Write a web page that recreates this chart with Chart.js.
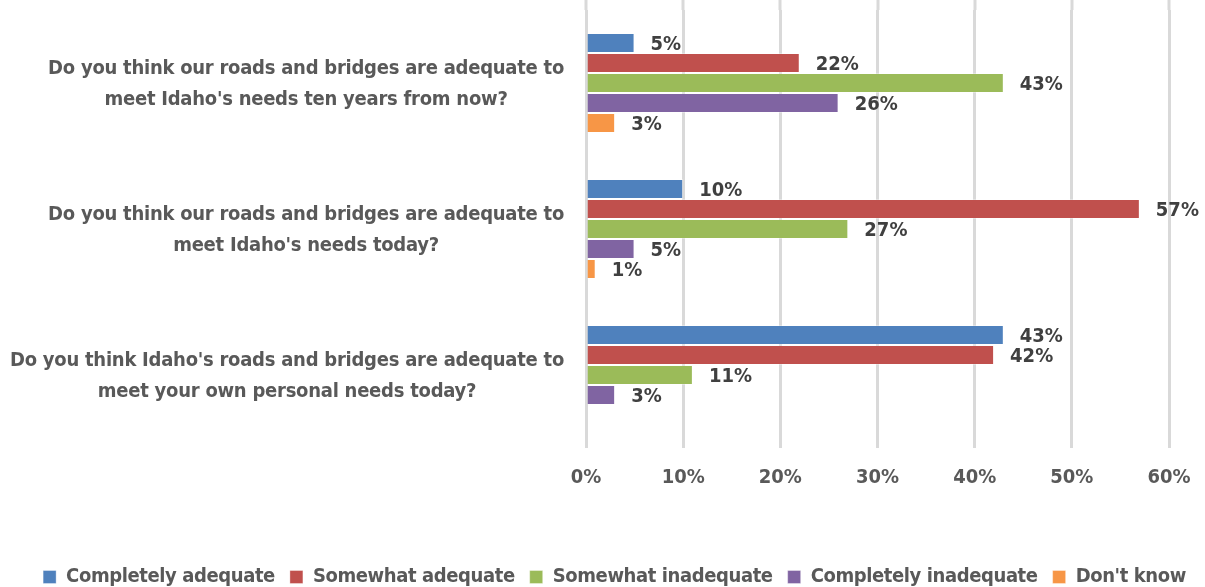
<!DOCTYPE html>
<html>
<head>
<meta charset="utf-8">
<script src="https://cdn.jsdelivr.net/npm/chart.js@4"></script>
<style>
  html, body { margin: 0; padding: 0; background: #ffffff; }
  #wrap { width: 1205px; height: 587px; position: relative; }
</style>
</head>
<body>
<div id="wrap"><canvas id="c" width="1205" height="587"></canvas></div>
<script>
// Survey questions (top to bottom), each split over two lines
const questions = [
  ["Do you think our roads and bridges are adequate to", "meet Idaho's needs ten years from now?"],
  ["Do you think our roads and bridges are adequate to", "meet Idaho's needs today?"],
  ["Do you think Idaho's roads and bridges are adequate to", "meet your own personal needs today?"]
];

// Response shares, percent
const completelyAdequate   = [5, 10, 43];
const somewhatAdequate     = [22, 57, 42];
const somewhatInadequate   = [43, 27, 11];
const completelyInadequate = [26, 5, 3];
const dontKnow             = [3, 1, null];

const seriesNames = ["Completely adequate", "Somewhat adequate", "Somewhat inadequate", "Completely inadequate", "Don't know"];
const seriesColors = ["#4F81BD", "#C0504D", "#9BBB59", "#8064A2", "#F79646"];
const xTicks = [0, 10, 20, 30, 40, 50, 60];

const FONT = "'Liberation Sans Narrow', 'DejaVu Sans Condensed', 'Roboto Condensed', sans-serif";

const seriesValues = [completelyAdequate, somewhatAdequate, somewhatInadequate, completelyInadequate, dontKnow];

// Percent labels just past the end of each bar
const valueLabels = {
  id: 'valueLabels',
  afterDatasetsDraw(chart) {
    const ctx = chart.ctx;
    ctx.save();
    ctx.font = "bold 20px " + FONT;
    ctx.fillStyle = "#404040";
    ctx.textAlign = "left";
    ctx.textBaseline = "middle";
    chart.data.datasets.forEach((ds, di) => {
      const meta = chart.getDatasetMeta(di);
      meta.data.forEach((bar, i) => {
        const v = ds.data[i];
        if (v === null || v === undefined) return;
        ctx.fillText(v + "%", bar.x + 16, bar.y + 2);
      });
    });
    ctx.restore();
  }
};

// Question labels: each block right-aligned against the plot, its lines centred
const questionLabels = {
  id: 'questionLabels',
  afterDraw(chart) {
    const y = chart.scales.y;
    const ctx = chart.ctx;
    const rightEdge = chart.chartArea.left - 22;
    const lineGap = 31;
    ctx.save();
    ctx.font = "bold 20px " + FONT;
    if ('letterSpacing' in ctx) ctx.letterSpacing = "-0.25px";
    ctx.fillStyle = "#595959";
    ctx.textAlign = "center";
    ctx.textBaseline = "middle";
    chart.data.labels.forEach((lines, i) => {
      const cy = y.getPixelForTick(i);
      const widest = Math.max(...lines.map(l => ctx.measureText(l).width));
      const cx = rightEdge - widest / 2;
      const top = cy - (lines.length - 1) * lineGap / 2;
      lines.forEach((l, k) => ctx.fillText(l, cx, top + k * lineGap + 1));
    });
    ctx.restore();
  }
};

// Carry the vertical grid lines up to the top edge of the canvas
const gridToTop = {
  id: 'gridToTop',
  beforeDatasetsDraw(chart) {
    const x = chart.scales.x;
    const ctx = chart.ctx;
    ctx.save();
    ctx.strokeStyle = "#D9D9D9";
    ctx.lineWidth = 3;
    xTicks.forEach(t => {
      const px = Math.round(x.getPixelForValue(t));
      ctx.beginPath();
      ctx.moveTo(px, 0);
      ctx.lineTo(px, chart.chartArea.top);
      ctx.stroke();
    });
    ctx.restore();
  }
};

// Compact, slightly tightened legend row at the foot of the chart
const legendTweaks = {
  id: 'legendTweaks',
  beforeInit(chart) {
    const lg = chart.legend;
    const tight = (fn) => function (...args) {
      const c = this.ctx;
      c.save();
      if ('letterSpacing' in c) c.letterSpacing = "-0.4px";
      const r = fn.apply(this, args);
      c.restore();
      return r;
    };
    const origFit = tight(lg.fit);
    lg.fit = function () {
      origFit.call(this);
      this.height = 35;
    };
    lg.draw = tight(lg.draw);
  }
};

new Chart(document.getElementById('c'), {
  type: 'bar',
  data: {
    labels: questions,
    datasets: seriesValues.map((vals, i) => ({
      label: seriesNames[i],
      data: vals,
      backgroundColor: seriesColors[i],
      borderColor: 'rgba(255,255,255,0.35)',
      borderWidth: 1,
      categoryPercentage: 0.685,
      barPercentage: 1.0
    }))
  },
  options: {
    indexAxis: 'y',
    responsive: false,
    animation: false,
    devicePixelRatio: 1,
    layout: { padding: { top: 10, right: 0, bottom: 0, left: 24 } },
    scales: {
      x: {
        min: 0,
        max: 60,
        afterBuildTicks(s) { s.ticks = xTicks.map(v => ({ value: v })); },
        afterFit(s) { s.height = 104; s.paddingLeft = 0; s.paddingRight = 36; },
        grid: { color: "#D9D9D9", lineWidth: 3, drawTicks: false },
        border: { display: false },
        ticks: {
          padding: 18,
          color: "#595959",
          font: { family: FONT, size: 20, weight: 'bold' },
          callback: v => v + "%"
        }
      },
      y: {
        afterFit(s) { s.width = 562; s.paddingTop = 0; s.paddingBottom = 0; },
        grid: { display: false, drawTicks: false },
        border: { display: false },
        ticks: { display: false }
      }
    },
    plugins: {
      legend: {
        position: 'bottom',
        labels: {
          boxWidth: 13,
          boxHeight: 13,
          padding: 15,
          color: "#595959",
          font: { family: FONT, size: 20, weight: 'bold' }
        }
      },
      tooltip: { enabled: false }
    }
  },
  plugins: [valueLabels, questionLabels, gridToTop, legendTweaks]
});
</script>
</body>
</html>
